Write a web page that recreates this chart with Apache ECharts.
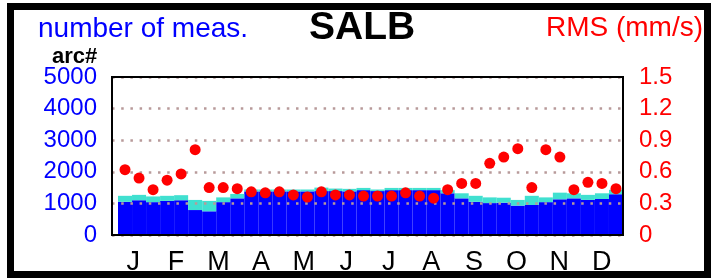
<!DOCTYPE html>
<html>
<head>
<meta charset="utf-8">
<script src="https://cdn.jsdelivr.net/npm/echarts@6/dist/echarts.min.js"></script>
<style>
  html, body { margin: 0; padding: 0; background: #fff; }
  .wrap { position: relative; width: 715px; height: 279px; }
  #chart { width: 715px; height: 279px; }
  .frame {
    position: absolute; left: 7px; top: 3px; width: 690px; height: 261px;
    border: 7px solid #000; pointer-events: none;
  }
</style>
</head>
<body>
<div class="wrap">
  <div id="chart"></div>
  <div class="frame"></div>
</div>
<script>
// month labels on the axis
const months = ["J", "F", "M", "A", "M", "J", "J", "A", "S", "O", "N", "D"];
// 36 ten-day periods
const periods = Array.from({ length: 36 }, (_, i) => "p" + (i + 1));

// number of measurements (blue part and turquoise part on top)
const measBlue = [1050, 1100, 1040, 1080, 1100, 790, 750, 1040, 1160, 1380, 1380, 1380,
  1380, 1380, 1390, 1390, 1380, 1420, 1390, 1420, 1420, 1420, 1420, 1320,
  1160, 1050, 1010, 1020, 930, 950, 1040, 1130, 1160, 1110, 1140, 1290];
const measTurq = [190, 170, 180, 160, 160, 320, 330, 150, 140, 60, 60, 60,
  60, 60, 110, 80, 80, 70, 50, 70, 70, 70, 70, 100,
  160, 190, 180, 160, 180, 290, 150, 210, 160, 160, 180, 140];

// RMS (mm/s)
const rms = [0.62, 0.54, 0.43, 0.52, 0.58, 0.81, 0.45, 0.45, 0.44, 0.41, 0.40, 0.41,
  0.38, 0.36, 0.41, 0.38, 0.38, 0.37, 0.37, 0.37, 0.40, 0.37, 0.35, 0.43,
  0.49, 0.49, 0.68, 0.74, 0.82, 0.45, 0.81, 0.74, 0.43, 0.50, 0.49, 0.44];

const chart = echarts.init(document.getElementById("chart"));
const font = "Liberation Sans, Arial, sans-serif";
const black = { color: "#000", width: 2 };

chart.setOption({
  animation: false,
  title: [
    { text: "number of meas.", left: 38, top: 15, padding: 0,
      textStyle: { color: "#0000ff", fontSize: 28, fontWeight: "normal", fontFamily: font } },
    { text: "SALB", left: 309, top: 9, padding: 0,
      textStyle: { color: "#000", fontSize: 39, fontWeight: "bold", fontFamily: font } },
    { text: "RMS (mm/s)", right: 12, top: 14, padding: 0,
      textStyle: { color: "#ff0000", fontSize: 28, fontWeight: "normal", fontFamily: font } },
    { text: "arc#", left: 52, top: 46, padding: 0,
      textStyle: { color: "#000", fontSize: 22, fontWeight: "bold", fontFamily: font } },
  ],
  grid: [
    { left: 112, right: 92, top: 77, bottom: 44, outerBoundsMode: "none",
      show: true, borderColor: "#000", borderWidth: 2, backgroundColor: "transparent" },
    { left: 118, right: 92, top: 77, bottom: 44, outerBoundsMode: "none" },
  ],
  xAxis: [
    {
      gridIndex: 0, type: "category", data: months, position: "bottom", z: 4,
      axisLine: { onZero: false, lineStyle: black },
      axisTick: { length: 15, lineStyle: black },
      axisLabel: { color: "#000", fontSize: 27, fontFamily: font, margin: 14 },
      splitLine: { show: false },
    },
    { gridIndex: 1, type: "category", data: periods, show: false },
    {
      gridIndex: 0, type: "category", data: months, position: "top", z: 4,
      axisLine: { show: true, onZero: false, lineStyle: black },
      axisTick: { show: false }, axisLabel: { show: false }, splitLine: { show: false },
    },
  ],
  yAxis: [
    {
      gridIndex: 0, type: "value", min: 0, max: 5000, interval: 1000, position: "left", z: 3,
      axisLine: { show: true, onZero: false, lineStyle: black },
      axisTick: { show: false },
      axisLabel: { color: "#0000ff", fontSize: 24, fontFamily: font, margin: 15,
        formatter: (v) => String(v) },
      splitLine: { show: true, lineStyle: { color: "#b89a9a", width: 2.5, type: [2.5, 6.7] } },
    },
    {
      gridIndex: 0, type: "value", min: 0, max: 1.5, interval: 0.3, position: "right", z: 4,
      axisLine: { show: true, onZero: false, lineStyle: black },
      axisTick: { show: false },
      axisLabel: { color: "#ff0000", fontSize: 24, fontFamily: font, margin: 16,
        formatter: (v) => (v === 0 ? "0" : v.toFixed(1)) },
      splitLine: { show: false },
    },
    { gridIndex: 1, type: "value", min: 0, max: 5000, show: false },
    { gridIndex: 1, type: "value", min: 0, max: 1.5, show: false },
  ],
  series: [
    {
      name: "meas", type: "bar", xAxisIndex: 1, yAxisIndex: 2, stack: "n",
      barCategoryGap: "0%", data: measBlue,
      itemStyle: { color: "#0000ff", borderWidth: 0 },
    },
    {
      name: "meas2", type: "bar", xAxisIndex: 1, yAxisIndex: 2, stack: "n",
      barCategoryGap: "0%", data: measTurq,
      itemStyle: { color: "#40e0d0", borderWidth: 0 },
    },
    {
      name: "RMS", type: "scatter", xAxisIndex: 1, yAxisIndex: 3, z: 5,
      symbolSize: 11, data: rms,
      itemStyle: { color: "#ff0000", borderWidth: 0, opacity: 1 },
    },
  ],
});
</script>
</body>
</html>
